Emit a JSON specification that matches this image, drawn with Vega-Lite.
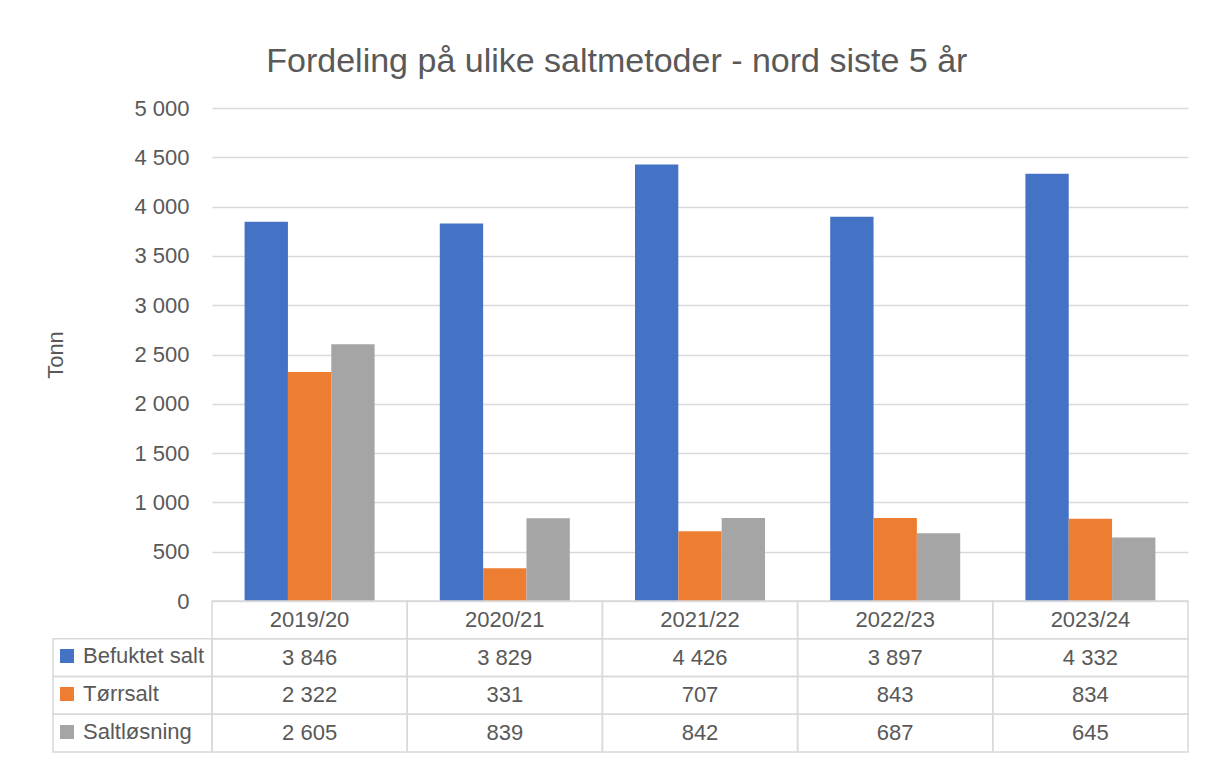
{
  "$schema": "https://vega.github.io/schema/vega-lite/v6.json",
  "background": "white",
  "padding": {"left": 44, "top": 45, "right": 0, "bottom": 0},
  "title": {"text": "Fordeling på ulike saltmetoder - nord siste 5 år", "fontSize": 34, "font": "Liberation Sans", "fontWeight": "normal", "color": "#595959", "anchor": "middle", "offset": 18},
  "datasets": {
    "salt": [
      {"year": "2019/20", "series": "Befuktet salt", "value": 3846},
      {"year": "2019/20", "series": "Tørrsalt", "value": 2322},
      {"year": "2019/20", "series": "Saltløsning", "value": 2605},
      {"year": "2020/21", "series": "Befuktet salt", "value": 3829},
      {"year": "2020/21", "series": "Tørrsalt", "value": 331},
      {"year": "2020/21", "series": "Saltløsning", "value": 839},
      {"year": "2021/22", "series": "Befuktet salt", "value": 4426},
      {"year": "2021/22", "series": "Tørrsalt", "value": 707},
      {"year": "2021/22", "series": "Saltløsning", "value": 842},
      {"year": "2022/23", "series": "Befuktet salt", "value": 3897},
      {"year": "2022/23", "series": "Tørrsalt", "value": 843},
      {"year": "2022/23", "series": "Saltløsning", "value": 687},
      {"year": "2023/24", "series": "Befuktet salt", "value": 4332},
      {"year": "2023/24", "series": "Tørrsalt", "value": 834},
      {"year": "2023/24", "series": "Saltløsning", "value": 645}
    ]
  },
  "columns": 2,
  "spacing": 0,
  "bounds": "flush",
  "concat": [
    {
      "width": 159,
      "height": 493,
      "data": {"values": [{}]},
      "mark": {"type": "text", "text": ""}
    },
    {
      "width": 976,
      "height": 493,
      "data": {"name": "salt"},
      "mark": {"type": "bar"},
      "encoding": {
        "x": {"field": "year", "type": "nominal", "scale": {"domain": ["2019/20", "2020/21", "2021/22", "2022/23", "2023/24"], "paddingInner": 0.334, "paddingOuter": 0.167}, "axis": null},
        "xOffset": {"field": "series", "type": "nominal", "scale": {"domain": ["Befuktet salt", "Tørrsalt", "Saltløsning"], "paddingInner": 0, "paddingOuter": 0}},
        "y": {"field": "value", "type": "quantitative", "scale": {"domain": [0, 5000], "nice": false},
          "axis": {"title": "Tonn", "values": [0, 500, 1000, 1500, 2000, 2500, 3000, 3500, 4000, 4500, 5000], "format": ",d", "grid": true, "gridColor": "#D9D9D9", "gridWidth": 1.5, "domain": false, "ticks": false, "labelPadding": 23, "labelFontSize": 22, "labelColor": "#595959", "labelFont": "Liberation Sans", "titleFontSize": 22, "titleFont": "Liberation Sans", "titleFontWeight": "normal", "titleColor": "#595959", "titlePadding": 66}},
        "color": {"field": "series", "type": "nominal", "scale": {"domain": ["Befuktet salt", "Tørrsalt", "Saltløsning"], "range": ["#4472C4", "#ED7D31", "#A5A5A5"]},
          "legend": {"orient": "none", "legendX": 3, "legendY": 537, "title": null, "symbolType": "square", "symbolSize": 196, "symbolStrokeWidth": 0, "labelFontSize": 22, "labelFont": "Liberation Sans", "labelColor": "#595959", "labelOffset": 5, "rowPadding": 16, "labelLimit": 0, "direction": "vertical"}}
      }
    },
    {
      "width": 159,
      "height": 151,
      "data": {"name": "salt"},
      "transform": [{"filter": "datum.year == '2019/20'"}],
      "mark": {"type": "rect", "fill": "white", "fillOpacity": 0, "stroke": "#D9D9D9", "strokeWidth": 1.5},
      "encoding": {
        "y": {"field": "series", "type": "nominal", "scale": {"domain": [" ", "Befuktet salt", "Tørrsalt", "Saltløsning"], "paddingInner": 0, "paddingOuter": 0}, "axis": null}
      }
    },
    {
      "width": 976,
      "height": 151,
      "data": {"name": "salt"},
      "encoding": {
        "x": {"field": "year", "type": "nominal", "scale": {"domain": ["2019/20", "2020/21", "2021/22", "2022/23", "2023/24"], "paddingInner": 0, "paddingOuter": 0}, "axis": null}
      },
      "layer": [
        {
          "mark": {"type": "rect", "fill": "white", "fillOpacity": 0, "stroke": "#D9D9D9", "strokeWidth": 1.5},
          "encoding": {
            "y": {"field": "series", "type": "nominal", "scale": {"domain": [" ", "Befuktet salt", "Tørrsalt", "Saltløsning"], "paddingInner": 0, "paddingOuter": 0}, "axis": null}
          }
        },
        {
          "transform": [{"filter": "datum.series == 'Befuktet salt'"}],
          "mark": {"type": "rect", "fill": "white", "fillOpacity": 0, "stroke": "#D9D9D9", "strokeWidth": 1.5},
          "encoding": {
            "y": {"datum": " ", "type": "nominal"}
          }
        },
        {
          "mark": {"type": "text", "fontSize": 22, "font": "Liberation Sans", "color": "#595959", "baseline": "middle"},
          "encoding": {
            "y": {"field": "series", "type": "nominal"},
            "text": {"field": "value", "type": "quantitative", "format": ",d"}
          }
        },
        {
          "transform": [{"filter": "datum.series == 'Befuktet salt'"}],
          "mark": {"type": "text", "fontSize": 22, "font": "Liberation Sans", "color": "#595959", "baseline": "middle"},
          "encoding": {
            "y": {"datum": " ", "type": "nominal"},
            "text": {"field": "year", "type": "nominal"}
          }
        }
      ]
    }
  ],
  "config": {
    "view": {"stroke": null},
    "font": "Liberation Sans",
    "locale": {"number": {"decimal": ",", "thousands": " ", "grouping": [3], "currency": ["", " kr"]}}
  }
}
